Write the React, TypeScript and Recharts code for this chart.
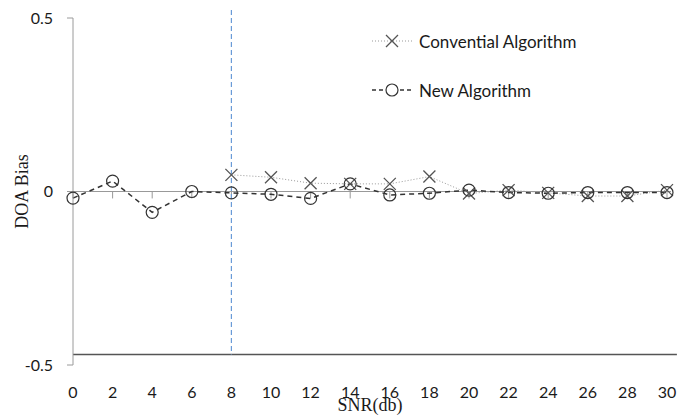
import { LineChart, Line, XAxis, YAxis, ReferenceLine } from 'recharts'

// SNR values on the x axis (dB)
const SNR_DB = [0, 2, 4, 6, 8, 10, 12, 14, 16, 18, 20, 22, 24, 26, 28, 30]
// DOA bias
const CONVENTIONAL = [null, null, null, null, 0.048, 0.041, 0.024, 0.022, 0.022, 0.043, -0.006, 0.004, -0.004, -0.013, -0.013, 0.004]
const NEW_ALGORITHM = [-0.019, 0.03, -0.06, 0, -0.004, -0.008, -0.02, 0.022, -0.01, -0.005, 0.004, -0.003, -0.005, -0.003, -0.003, -0.003]
const Y_TICKS = [-0.5, 0, 0.5]

const data = SNR_DB.map((snr, i) => ({
  snr,
  conventional: CONVENTIONAL[i],
  proposed: NEW_ALGORITHM[i]
}))

const CrossDot = (props: any) => {
  const { cx, cy, index } = props
  if (cx == null || cy == null || props.value == null) return <g key={`c-${index}`} />
  const s = 6
  return (
    <path
      key={`c-${index}`}
      d={`M${cx - s},${cy - s}L${cx + s},${cy + s}M${cx + s},${cy - s}L${cx - s},${cy + s}`}
      stroke="#555"
      strokeWidth={1.3}
      fill="none"
    />
  )
}

// legend drawn as an overlay so it doesn't eat into the plot area
const LegendBox = () => (
  <div style={{ position: 'absolute', left: 372, top: 29, fontFamily: 'Lato, sans-serif', fontSize: 17, color: '#1a1a1a' }}>
    <div style={{ display: 'flex', alignItems: 'center', height: 24 }}>
      <svg width={47} height={20}>
        <line x1={0} y1={10} x2={40} y2={10} stroke="#999" strokeDasharray="1 2" />
        <path d="M14,4L26,16M26,4L14,16" stroke="#555" strokeWidth={1.3} fill="none" />
      </svg>
      <span>Convential Algorithm</span>
    </div>
    <div style={{ display: 'flex', alignItems: 'center', height: 24, marginTop: 25 }}>
      <svg width={47} height={20}>
        <line x1={0} y1={10} x2={40} y2={10} stroke="#333" strokeWidth={1.3} strokeDasharray="4 3" />
        <circle cx={20} cy={10} r={6} stroke="#333" strokeWidth={1.2} fill="white" />
      </svg>
      <span>New Algorithm</span>
    </div>
  </div>
)

export default function App() {
  return (
    <div style={{ position: 'absolute', left: 0, top: 0, width: 677, height: 415, background: '#fff' }}>
      <LineChart width={677} height={415} data={data} margin={{ top: 18, right: 10, bottom: 0, left: 0 }}>
        <XAxis
          dataKey="snr"
          type="number"
          domain={[0, 30]}
          ticks={SNR_DB}
          axisLine={false}
          tickLine={false}
          height={50}
          tickMargin={16}
          tick={{ fill: '#1a1a1a', fontSize: 16, fontFamily: 'Lato, sans-serif' }}
          label={{ value: 'SNR(db)', position: 'insideBottom', offset: 4, fill: '#1a1a1a', fontSize: 18, fontFamily: '"Liberation Serif", serif' }}
        />
        <YAxis
          type="number"
          domain={[-0.5, 0.5]}
          ticks={Y_TICKS}
          width={73}
          stroke="#9a9a9a"
          tickSize={6}
          tickMargin={14}
          tick={{ fill: '#1a1a1a', fontSize: 16, fontFamily: 'Lato, sans-serif' }}
          label={{ value: 'DOA Bias', angle: -90, position: 'insideLeft', offset: 22, fill: '#1a1a1a', fontSize: 18, fontFamily: '"Liberation Serif", serif', style: { textAnchor: 'middle' } }}
        />
        <ReferenceLine segment={[{ x: 0, y: 0 }, { x: 30.2, y: 0 }]} stroke="#999" strokeWidth={1.2} ifOverflow="visible" />
        {SNR_DB.map(t => (
          <ReferenceLine key={`tick-${t}`} segment={[{ x: t, y: 0 }, { x: t, y: -0.02 }]} stroke="#999" ifOverflow="visible" />
        ))}
        <ReferenceLine segment={[{ x: 0, y: -0.47 }, { x: 30.5, y: -0.47 }]} stroke="#555" strokeWidth={1.5} ifOverflow="visible" />
        <ReferenceLine segment={[{ x: 8, y: 0.523 }, { x: 8, y: -0.47 }]} stroke="#6a9bd8" strokeWidth={1.2} strokeDasharray="5 3" ifOverflow="visible" />
        <Line
          dataKey="conventional"
          stroke="#999"
          strokeWidth={1}
          strokeDasharray="1 2"
          dot={CrossDot}
          activeDot={false}
          isAnimationActive={false}
        />
        <Line
          dataKey="proposed"
          stroke="#333"
          strokeWidth={1.5}
          strokeDasharray="5 4"
          dot={{ r: 6, stroke: '#333', strokeWidth: 1.2, fill: 'none', strokeDasharray: '' }}
          activeDot={false}
          isAnimationActive={false}
        />
      </LineChart>
      <LegendBox />
    </div>
  )
}
